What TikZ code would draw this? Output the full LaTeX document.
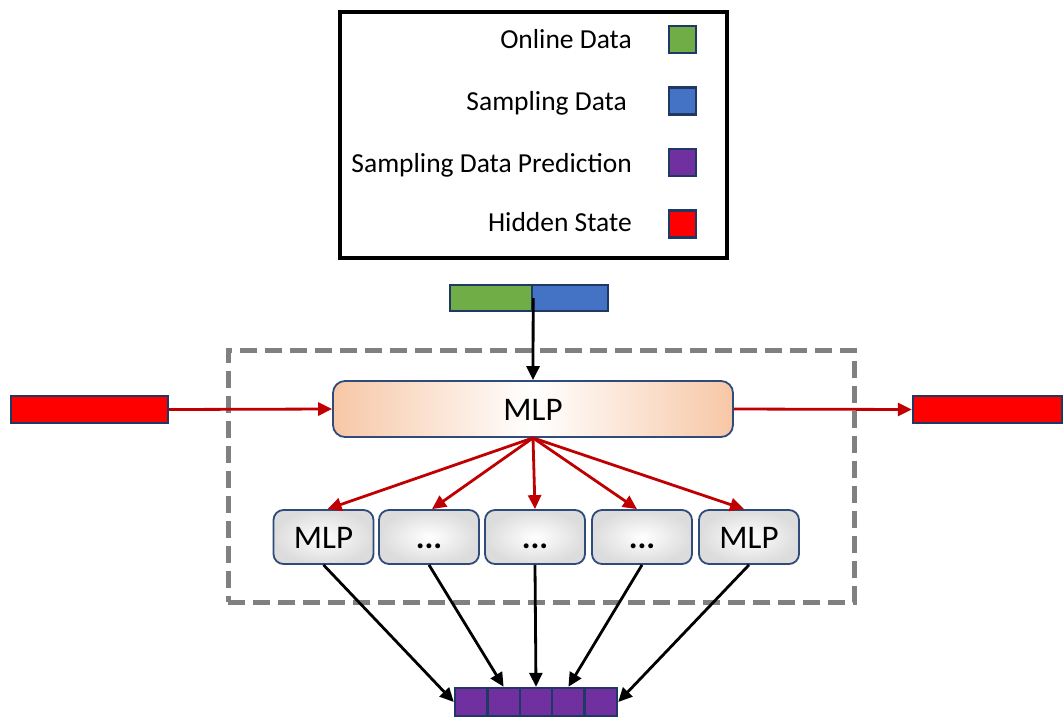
\documentclass[tikz,border=0pt]{standalone}
\usepackage{fontspec}
\setmainfont{Carlito}
\usetikzlibrary{arrows.meta}
\definecolor{navy}{HTML}{203864}
\definecolor{boxedge}{HTML}{2F4B7A}
\definecolor{gdata}{HTML}{70AD47}
\definecolor{bdata}{HTML}{4472C4}
\definecolor{pdata}{HTML}{7030A0}
\definecolor{hstate}{HTML}{FF0000}
\definecolor{darkred}{HTML}{C00000}
\definecolor{peach}{HTML}{F7C7A6}
\definecolor{lgray}{HTML}{DCDCDC}
\definecolor{dgray}{HTML}{808080}
\tikzset{
  bar/.style={draw=navy, line width=2.4pt, inner sep=0pt, minimum height=26pt},
  legsq/.style={draw=navy, line width=2.4pt, inner sep=0pt, minimum width=27pt, minimum height=27pt},
  legtxt/.style={anchor=base east, inner sep=0pt, font=\fontsize{27.5}{30}\selectfont},
  bigmlp/.style={draw=boxedge, line width=1.8pt, rounded corners=12pt, minimum width=400pt, minimum height=56pt,
     left color=peach, right color=peach, middle color=white, inner sep=0pt, text height=22pt, text depth=0pt,
     font=\fontsize{33}{36}\selectfont},
  smallmlp/.style={draw=boxedge, line width=1.8pt, rounded corners=10pt, minimum width=100pt, minimum height=54pt,
     inner color=white, outer color=lgray, inner sep=0pt, text height=22pt, text depth=0pt,
     font=\fontsize{33}{36}\selectfont},
  redarrow/.style={draw=darkred, line width=2.8pt, -{Triangle[length=14pt,width=13pt]}},
  blackarrow/.style={draw=black, line width=2.8pt, -{Triangle[length=14pt,width=13pt]}},
  outcell/.style={draw=navy, line width=2.4pt, fill=pdata, inner sep=0pt, minimum width=32.4pt, minimum height=28pt}
}
\begin{document}
\begin{tikzpicture}[x=1pt,y=-1pt]
\useasboundingbox (0,0) rectangle (1063,718);
% legend
\node[draw=black, line width=4pt, minimum width=387pt, minimum height=246pt, anchor=north west, inner sep=0pt] (legend) at (338,10) {};
\node[legtxt] (l1) at (632,48) {Online Data};
\node[legtxt] (l2) at (627,110) {Sampling Data};
\node[legtxt] (l3) at (632,172) {Sampling Data Prediction};
\node[legtxt] (l4) at (632,231) {Hidden State};
\node[legsq, fill=gdata] (q1) at (682.5,39.5) {};
\node[legsq, fill=bdata] (q2) at (682.5,101) {};
\node[legsq, fill=pdata] (q3) at (682.5,162.5) {};
\node[legsq, fill=hstate] (q4) at (682.5,224) {};
% dashed frame
\node[draw=dgray, line width=4.5pt, dash pattern=on 17pt off 8pt, minimum width=626pt, minimum height=252pt, anchor=north west, inner sep=0pt] (frame) at (226,348) {};
% input bar
\node[bar, fill=gdata, minimum width=82pt] (g) at (491,298) {};
\node[bar, fill=bdata, minimum width=76pt] (b) at (570,298) {};
% big MLP
\node[bigmlp] (mlp) at (533,409) {MLP};
% hidden state bars
\node[bar, fill=hstate, minimum width=157pt, minimum height=27pt] (hin) at (89.5,409.5) {};
\node[bar, fill=hstate, minimum width=149pt, minimum height=27pt] (hout) at (987.5,409.5) {};
% small MLPs
\node[smallmlp] (s1) at (323.5,537) {MLP};
\node[smallmlp] (s2) at (429,537) {\textbf{...}};
\node[smallmlp] (s3) at (535,537) {\textbf{...}};
\node[smallmlp] (s4) at (642,537) {\textbf{...}};
\node[smallmlp] (s5) at (749,537) {MLP};
% output cells
\node[outcell] (o1) at (471.2,702) {};
\node[outcell] (o2) at (503.6,702) {};
\node[outcell] (o3) at (536,702) {};
\node[outcell] (o4) at (568.4,702) {};
\node[outcell] (o5) at (600.8,702) {};
% connectors
\draw[blackarrow] (g.east) -- (mlp.north);
\draw[redarrow] (hin.east) -- (mlp.west);
\draw[redarrow] (mlp.east) -- (hout.west);
\draw[redarrow] (mlp.south) -- ([xshift=4pt]s1.north);
\draw[redarrow] (mlp.south) -- ([xshift=3pt]s2.north);
\draw[redarrow] (mlp.south) -- (s3.north);
\draw[redarrow] (mlp.south) -- ([xshift=-5pt]s4.north);
\draw[redarrow] (mlp.south) -- ([xshift=-5pt]s5.north);
\draw[blackarrow] (s1.south) -- (o1.west);
\draw[blackarrow] (s2.south) -- (o2.north);
\draw[blackarrow] (s3.south) -- (o3.north);
\draw[blackarrow] (s4.south) -- (o4.north);
\draw[blackarrow] (s5.south) -- (o5.east);
\end{tikzpicture}
\end{document}
